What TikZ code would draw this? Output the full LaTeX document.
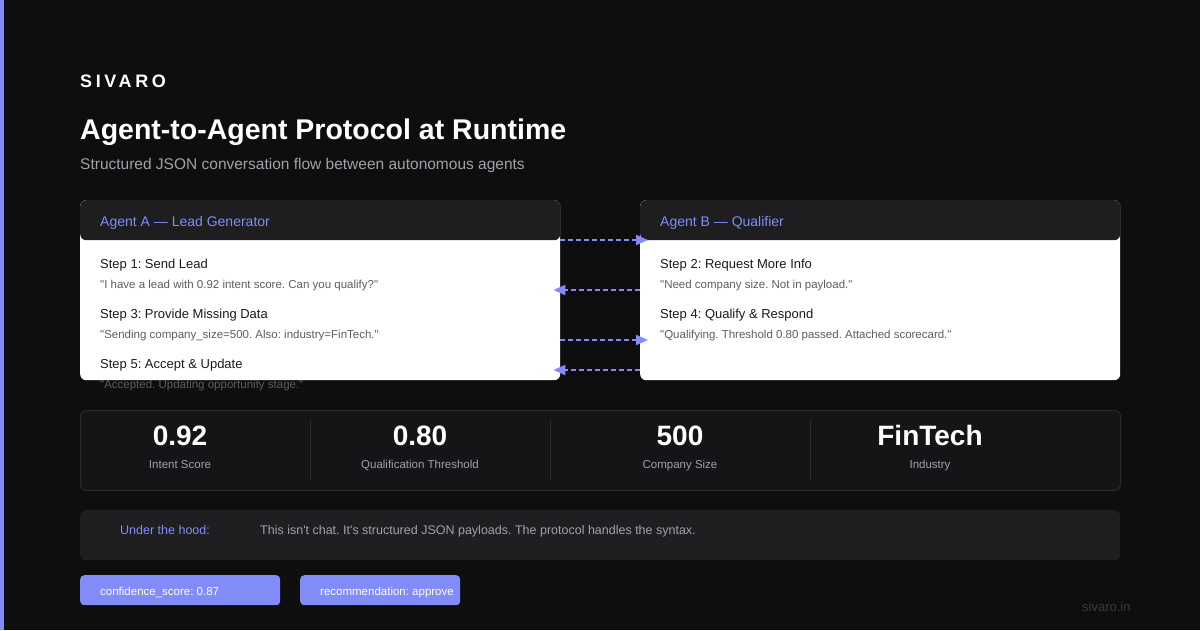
\documentclass[tikz,border=0pt]{standalone}
\usepackage{fontspec}
\setmainfont{Liberation Sans}[Ligatures=TeXOff]
\usetikzlibrary{arrows.meta,positioning}
\frenchspacing

\definecolor{pagebg}{HTML}{0E0E0F}
\definecolor{accent}{HTML}{818CF8}
\definecolor{headbg}{HTML}{1E1E21}
\definecolor{stepink}{HTML}{1A1A1A}
\definecolor{quoteink}{HTML}{5E5E62}
\definecolor{statbg}{HTML}{151517}
\definecolor{statline}{HTML}{2B2B2E}
\definecolor{hoodbg}{HTML}{1F1F22}
\definecolor{mutedink}{HTML}{A1A1AA}
\definecolor{faintink}{HTML}{3A3A3F}

\begin{document}
\begin{tikzpicture}[x=1pt,y=-1pt,
      txt/.style={anchor=base west, inner sep=0pt},
      card/.style={
         anchor=north west,
         rounded corners=6pt,
         fill=white,
         inner sep=0pt,
         minimum width=480pt,
         minimum height=180pt,
         path picture={\fill[headbg] (path picture bounding box.north west)
            rectangle ([yshift=-40pt]path picture bounding box.north east);}},
      cardhead/.style={txt, text=accent, font=\fontsize{14}{16}\selectfont},
      stephead/.style={txt, text=stepink, font=\fontsize{13}{15}\selectfont},
      stepquote/.style={txt, text=quoteink, font=\fontsize{11.5}{13}\selectfont},
      flow/.style={-{Triangle[length=12pt,width=10pt]}, accent, line width=2pt,
         dash pattern=on 5pt off 3pt},
      panel/.style={anchor=north west, rounded corners=6pt, inner sep=0pt,
         minimum width=1040pt},
      statval/.style={anchor=base, inner sep=0pt, text=white,
         font=\fontsize{28}{30}\selectfont\bfseries},
      statlbl/.style={anchor=base, inner sep=0pt, text=mutedink,
         font=\fontsize{11.5}{13}\selectfont},
      pill/.style={anchor=north west, rounded corners=4pt, fill=accent,
         inner sep=0pt, minimum height=30pt},
      pilltxt/.style={txt, text=white, font=\fontsize{11.5}{13}\selectfont}
      ]
\useasboundingbox (0,0) rectangle (1200,630);
\fill[pagebg] (0,0) rectangle (1200,630);
\fill[accent] (0,0) rectangle (4,630);

% heading
\node[txt, text=white, font=\fontsize{18}{20}\selectfont\bfseries\addfontfeatures{LetterSpace=20}] (brand) at (80,87.5) {SIVARO};
\node[txt, text=white, font=\fontsize{28.5}{32}\selectfont\bfseries] (title) at (80,139) {Agent-to-Agent Protocol at Runtime};
\node[txt, text=mutedink, font=\fontsize{15.5}{18}\selectfont] (subtitle) at (80,169.5) {Structured JSON conversation flow between autonomous agents};

% the two agents (last quote runs out under card A)
\node[stepquote] (q5) at (100,388) {"Accepted. Updating opportunity stage."};
\node[card] (cardA) at (80,200) {};
\node[card] (cardB) at (640,200) {};
\node[cardhead] (headA) at (100,226) {Agent A — Lead Generator};
\node[cardhead] (headB) at (660,226) {Agent B — Qualifier};

\node[stephead ] (s1) at (100,268.5) {Step 1: Send Lead};
\node[stepquote] (q1) at (100,288) {"I have a lead with 0.92 intent score. Can you qualify?"};
\node[stephead ] (s3) at (100,318.5) {Step 3: Provide Missing Data};
\node[stepquote] (q3) at (100,338) {"Sending company\_size=500. Also: industry=FinTech."};
\node[stephead ] (s5) at (100,368.5) {Step 5: Accept \& Update};

\node[stephead ] (s2) at (660,268.5) {Step 2: Request More Info};
\node[stepquote] (q2) at (660,288) {"Need company size. Not in payload."};
\node[stephead ] (s4) at (660,318.5) {Step 4: Qualify \& Respond};
\node[stepquote] (q4) at (660,338) {"Qualifying. Threshold 0.80 passed. Attached scorecard."};

\foreach \i/\j/\dy/\dx in {% start/end/drop/overlap
      cardA.north east/cardB.north west/40/8,
      cardB.north west/cardA.north east/90/-7,
      cardA.north east/cardB.north west/140/8,
      cardB.north west/cardA.north east/170/-7}
   \draw[flow] ([yshift=-\dy pt]\i) -- ([yshift=-\dy pt,xshift=\dx pt]\j);

% figures
\node[panel, fill=statbg, draw=statline, line width=1pt, minimum height=80pt] (stats) at (80,410) {};
\foreach \x in {310,550,810}
   \draw[statline, line width=1pt] (\x,420) -- (\x,480);
\foreach \x/\v/\l in {180/0.92/Intent Score, 420/0.80/Qualification Threshold,
      680/500/Company Size, 930/FinTech/Industry}{
   \node[statval] (val\x) at (\x,445) {\v};
   \node[statlbl] (lbl\x) at (\x,468) {\l};
}

% note
\node[panel, fill=hoodbg, minimum height=50pt] (hood) at (80,510) {};
\node[txt, text=accent, font=\fontsize{12.5}{14}\selectfont] (hoodkey) at (120,534.5) {Under the hood:};
\node[txt, text=mutedink, font=\fontsize{12.5}{14}\selectfont] (hoodtxt) at (260,534.5) {This isn't chat. It's structured JSON payloads. The protocol handles the syntax.};

% payload fields
\node[pill, minimum width=200pt] (pill1) at (80,575) {};
\node[pill, minimum width=160pt] (pill2) at (300,575) {};
\node[pilltxt] (pt1) at (100,595) {confidence\_score: 0.87};
\node[pilltxt] (pt2) at (320,595) {recommendation: approve};

\node[txt, text=faintink, font=\fontsize{13}{15}\selectfont] (site) at (1082,611.5) {sivaro.in};
\end{tikzpicture}
\end{document}
